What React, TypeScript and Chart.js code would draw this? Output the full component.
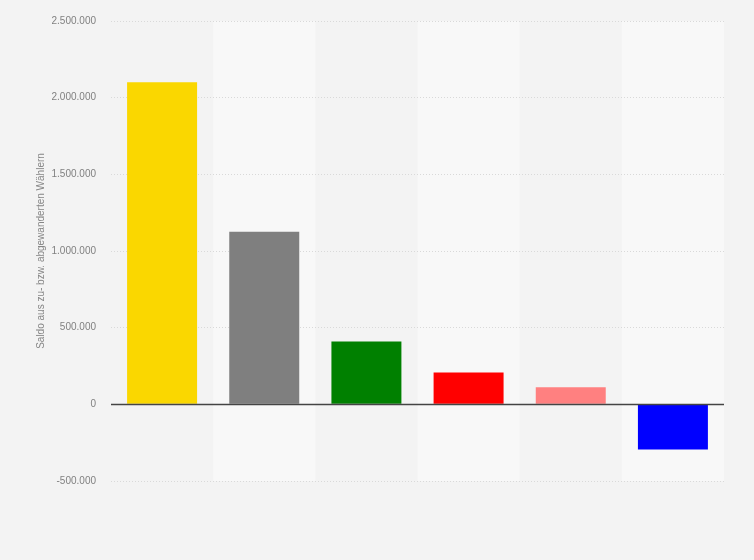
import { useEffect, useRef } from 'react';
import { Chart, ChartConfiguration, Plugin, registerables } from 'chart.js';

Chart.register(...registerables);

// Data (x labels are hidden in the original)
const categories = ['FDP', 'Nichtwähler', 'Grüne', 'SPD', 'Die Linke', 'Union'];
const saldo = [2100000, 1125000, 410000, 207000, 112000, -294000];
const barColors = ['#fad700', '#7f7f7f', '#008000', '#ff0000', '#ff8080', '#0000ff'];
const yTicks = [-500000, 0, 500000, 1000000, 1500000, 2000000, 2500000];

const formatDe = (v: number) => {
  const s = Math.abs(v).toString().replace(/\B(?=(\d{3})+(?!\d))/g, '.');
  return (v < 0 ? '-' : '') + s;
};

// Page background and alternating column bands
const bandsPlugin: Plugin<'bar'> = {
  id: 'bands',
  beforeDraw(chart) {
    const { ctx, chartArea, scales } = chart;
    const x = scales.x;
    ctx.save();
    ctx.fillStyle = '#f3f3f3';
    ctx.fillRect(0, 0, chart.width, chart.height);
    const step = (chartArea.right - chartArea.left) / categories.length;
    categories.forEach((_, i) => {
      if (i % 2 === 1) {
        const cx = x.getPixelForValue(i);
        ctx.fillStyle = '#f8f8f8';
        ctx.fillRect(cx - step / 2, chartArea.top, step, chartArea.bottom - chartArea.top);
      }
    });
    ctx.restore();
  },
  afterDatasetsDraw(chart) {
    // dark zero line on top of the bars
    const { ctx, chartArea, scales } = chart;
    const y0 = Math.round(scales.y.getPixelForValue(0)) + 0.5;
    ctx.save();
    ctx.strokeStyle = '#444444';
    ctx.lineWidth = 1.5;
    ctx.beginPath();
    ctx.moveTo(chartArea.left, y0);
    ctx.lineTo(chartArea.right, y0);
    ctx.stroke();
    ctx.restore();
  },
};

export default function App() {
  const chartRef = useRef<HTMLCanvasElement>(null);
  const chartInstance = useRef<Chart | null>(null);

  useEffect(() => {
    if (!chartRef.current) return;
    document.body.style.margin = '0';

    if (chartInstance.current) {
      chartInstance.current.destroy();
    }

    const config: ChartConfiguration<'bar'> = {
      type: 'bar',
      data: {
        labels: categories,
        datasets: [
          {
            label: 'Saldo',
            data: saldo,
            backgroundColor: barColors,
            borderWidth: 0,
            barPercentage: 0.685,
            categoryPercentage: 1,
          },
        ],
      },
      options: {
        animation: false,
        responsive: false,
        maintainAspectRatio: false,
        layout: {
          padding: { left: 0, top: 19, right: 30, bottom: 79 },
        },
        plugins: {
          legend: { display: false },
          tooltip: { enabled: false },
        },
        scales: {
          x: {
            display: false,
          },
          y: {
            min: -500000,
            max: 2500000,
            afterFit: (scale) => {
              scale.width = 111;
            },
            afterBuildTicks: (scale) => {
              scale.ticks = yTicks.map((value) => ({ value }));
            },
            ticks: {
              padding: 15,
              color: '#808080',
              font: { family: '"Liberation Sans", Arial, sans-serif', size: 10 },
              callback: (value) => formatDe(Number(value)),
            },
            grid: {
              color: '#d9d9d9',
              lineWidth: 1,
              drawTicks: false,
            },
            border: { display: false, dash: [1, 2] },
            title: {
              display: true,
              text: 'Saldo aus zu- bzw. abgewanderten Wählern',
              color: '#858585',
              font: { family: '"Liberation Sans", Arial, sans-serif', size: 10 },
              padding: { top: 35, bottom: 0 },
            },
          },
        },
      },
      plugins: [bandsPlugin],
    };

    chartInstance.current = new Chart(chartRef.current, config);

    return () => {
      if (chartInstance.current) {
        chartInstance.current.destroy();
      }
    };
  }, []);

  return (
    <div style={{ width: 754, height: 560, background: '#f3f3f3' }}>
      <canvas ref={chartRef} width={754} height={560}></canvas>
    </div>
  );
}
